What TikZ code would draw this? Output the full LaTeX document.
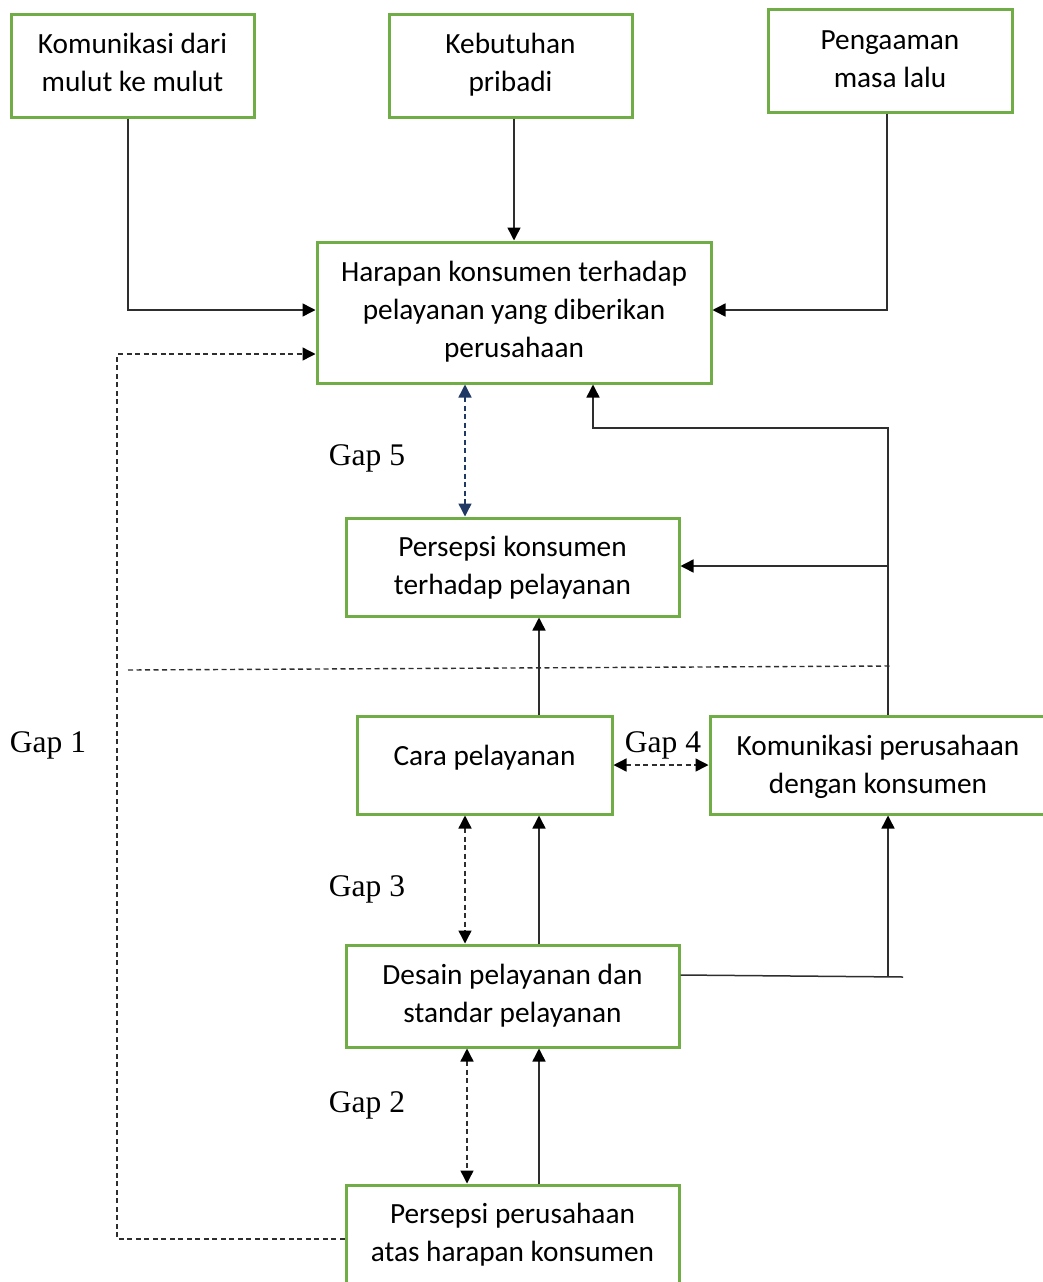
\documentclass[tikz,border=0pt]{standalone}
\usepackage{fontspec}
\setmainfont{Carlito}
\newfontfamily\gapfont{Liberation Serif}
\usetikzlibrary{arrows.meta}
\definecolor{boxgreen}{HTML}{70AD47}
\definecolor{linegray}{HTML}{2E2E2E}
\definecolor{gapblue}{HTML}{1F3864}
\tikzset{
  box/.style={draw=boxgreen, line width=3pt, inner sep=0pt},
  btext/.style={align=center, inner sep=0pt, font=\fontsize{29.3}{38}\selectfont},
  conn/.style={draw=linegray, line width=1.5pt, -{Triangle[length=13pt,width=13pt,color=black]}},
  plain/.style={draw=linegray, line width=1.5pt},
  dconn/.style={draw=linegray, line width=1.4pt, dash pattern=on 5pt off 3.5pt,
    {Triangle[length=13pt,width=13pt,color=black]}-{Triangle[length=13pt,width=13pt,color=black]}},
  bconn/.style={draw=gapblue, line width=1.4pt, dash pattern=on 5pt off 3.5pt,
    {Triangle[length=13pt,width=13pt]}-{Triangle[length=13pt,width=13pt]}},
  dline/.style={draw=linegray, line width=1.4pt, dash pattern=on 5pt off 3.5pt},
  gaplabel/.style={font=\gapfont\fontsize{31.5}{34}\selectfont, inner sep=0pt}
}
\begin{document}
\begin{tikzpicture}[x=1pt,y=-1pt]
\useasboundingbox (0,0) rectangle (1043,1282);
% boxes
\node[box, minimum width=243pt, minimum height=103pt,
  label={[btext,yshift=3.5pt]center:{Komunikasi dari\\mulut ke mulut}}] (b1) at (132.5,65.5) {};
\node[box, minimum width=243pt, minimum height=103pt,
  label={[btext,yshift=0.5pt]center:{Kebutuhan\\pribadi}}] (b2) at (510.5,65.5) {};
\node[box, minimum width=244pt, minimum height=103pt,
  label={[btext,yshift=1.5pt]center:{Pengaaman\\masa lalu}}] (b3) at (890,60.5) {};
\node[box, minimum width=394pt, minimum height=141pt,
  label={[btext,yshift=0.5pt]center:{Harapan konsumen terhadap\\pelayanan yang diberikan\\perusahaan}}] (h) at (514,312.5) {};
\node[box, minimum width=333pt, minimum height=98pt,
  label={[btext,yshift=-0.5pt]center:{Persepsi konsumen\\terhadap pelayanan}}] (p) at (512.5,567) {};
\node[box, minimum width=255pt, minimum height=98pt,
  label={[btext,yshift=7pt]center:{Cara pelayanan}}] (c) at (484.5,765) {};
\node[box, minimum width=336pt, minimum height=98pt,
  label={[btext,yshift=-2pt]center:{Komunikasi perusahaan\\dengan konsumen}}] (k) at (878,765) {};
\node[box, minimum width=333pt, minimum height=102pt,
  label={[btext,yshift=0pt]center:{Desain pelayanan dan\\standar pelayanan}}] (d) at (512.5,996) {};
\node[box, minimum width=333pt, minimum height=108pt,
  label={[btext,yshift=4pt]center:{Persepsi perusahaan\\atas harapan konsumen}}] (pp) at (512.5,1239) {};
% helper coordinates
\coordinate (gx1) at (117,0);
\coordinate (gx5) at (465,0);
\coordinate (gx2) at (467,0);
\coordinate (ax) at (539,0);
\coordinate (kx) at (888,0);
\coordinate (j1) at (888,428);
\coordinate (j2) at (593,428);
\coordinate (j3) at (888,566);
\coordinate (j4) at (888,977);
\coordinate (j5) at (903,977);
\coordinate (dl1) at (128,670);
\coordinate (dl2) at (890,666);
% inputs to Harapan
\draw[conn] ([xshift=-4.5pt]b1.south) |- ([yshift=2.5pt]h.west);
\draw[conn] (b2.south -| h.north) -- (h.north);
\draw[conn] ([xshift=-3pt]b3.south) |- ([yshift=2.5pt]h.east);
% Gap 1 dashed feedback
\draw[dline, -{Triangle[length=13pt,width=13pt,color=black]}] (pp.west) -- (pp.west -| gx1) |- ([yshift=-41.5pt]h.west);
% Gap 5
\draw[bconn] (h.south -| gx5) -- (p.north -| gx5);
% Komunikasi perusahaan up to Harapan and Persepsi
\draw[conn] (k.north -| kx) -- (j1) -- (j2) -- (h.south -| j2);
\draw[conn] (j3) -- (p.east |- j3);
% separating dashed line
\draw[dline] (dl1) -- (dl2);
% Cara -> Persepsi konsumen
\draw[conn] (c.north -| ax) -- (p.south -| ax);
% Gap 4
\draw[dconn] (c.east) -- (k.west);
% Gap 3
\draw[dconn] (c.south -| gx5) -- (d.north -| gx5);
\draw[conn] (d.north -| ax) -- (c.south -| ax);
% Desain -> Komunikasi
\draw[plain] ([yshift=21pt]d.east) -- (j5);
\draw[conn] (j4) -- (k.south -| kx);
% Gap 2
\draw[dconn] (d.south -| gx2) -- (pp.north -| gx2);
\draw[conn] (pp.north -| ax) -- (d.south -| ax);
% gap labels
\node[gaplabel] (l5) at (367,458) {Gap 5};
\node[gaplabel] (l1) at (48,745) {Gap 1};
\node[gaplabel] (l4) at (663,745) {Gap 4};
\node[gaplabel] (l3) at (367,889) {Gap 3};
\node[gaplabel] (l2) at (367,1105) {Gap 2};
\end{tikzpicture}
\end{document}
